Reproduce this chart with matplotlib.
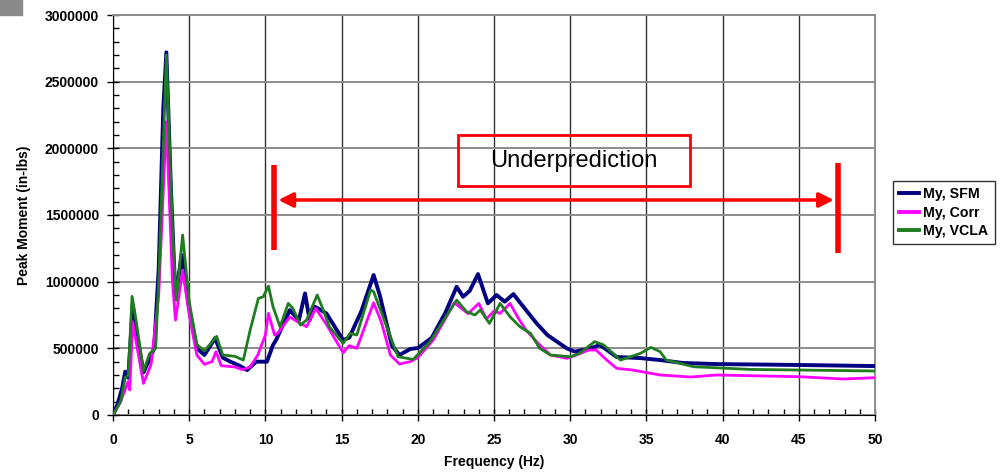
import matplotlib
matplotlib.use("Agg")
import matplotlib.pyplot as plt
from matplotlib.patches import Rectangle
from matplotlib.ticker import MultipleLocator, FuncFormatter

plt.rcParams['font.family'] = ['Liberation Sans', 'DejaVu Sans']

# Peak moment spectra, frequency in Hz, moment in in-lbs
freq_sfm = [0.0, 0.3, 0.6, 0.8, 1.0, 1.3, 1.5, 2.0, 2.4, 2.7, 3.0, 3.3, 3.5, 3.8, 4.1,
            4.5, 5.0, 5.5, 6.0, 6.7, 7.2, 7.7, 8.3, 8.8, 9.4, 10.1, 10.5, 10.7, 11.6, 12.2,
            12.6, 12.9, 13.25, 14.0, 15.1, 15.5, 16.3, 17.1, 17.5, 18.3, 18.8, 19.5, 20.0,
            20.9, 21.8, 22.55, 22.97, 23.4, 23.95, 24.6, 25.17, 25.7, 26.27, 27.1, 27.8,
            28.5, 29.77, 30.3, 31.3, 31.96, 33.05, 34.6, 35.9, 37.4, 39.6, 45.1, 50.0]
my_sfm = [0, 80000, 200000, 325000, 280000, 820000, 650000, 320000, 420000, 500000,
          1100000, 2300000, 2720000, 1700000, 870000, 1200000, 800000, 500000, 450000,
          577000, 430000, 400000, 370000, 337000, 400000, 400000, 525000, 562000, 787000,
          712000, 912000, 712000, 812000, 762000, 562000, 580000, 780000, 1050000, 900000,
          520000, 450000, 495000, 502000, 577000, 765000, 962000, 887000, 930000, 1057000,
          837000, 900000, 850000, 907000, 787000, 687000, 600000, 500000, 475000, 500000,
          525000, 435000, 427000, 412000, 390000, 382000, 375000, 367000]

freq_corr = [0.0, 0.5, 0.99, 1.1, 1.29, 1.5, 2.0, 2.5, 3.0, 3.5, 3.9, 4.1, 4.57, 5.0, 5.5,
             6.0, 6.5, 6.76, 7.1, 8.0, 8.5, 9.0, 9.5, 10.0, 10.2, 10.6, 10.8, 11.6, 12.1,
             12.7, 13.3, 14.0, 15.1, 15.5, 16.0, 17.1, 17.6, 18.2, 18.8, 19.5, 20.0, 21.0,
             22.0, 22.4, 23.3, 24.0, 24.5, 25.0, 25.4, 26.05, 26.6, 27.1, 27.9, 28.7, 29.8,
             30.4, 31.2, 31.7, 32.4, 33.05, 34.1, 35.9, 37.9, 39.6, 45.1, 47.9, 50.0]
my_corr = [0, 100000, 250000, 187000, 700000, 560000, 237000, 380000, 900000, 2200000,
           1000000, 712000, 1087000, 750000, 450000, 380000, 400000, 475000, 370000, 360000,
           340000, 360000, 450000, 600000, 762000, 600000, 612000, 735000, 700000, 662000,
           800000, 680000, 467000, 520000, 500000, 842000, 700000, 450000, 382000, 400000,
           430000, 560000, 760000, 842000, 760000, 837000, 720000, 780000, 762000, 837000,
           725000, 637000, 537000, 450000, 425000, 450000, 487000, 487000, 412000, 350000,
           337000, 300000, 285000, 300000, 287000, 270000, 280000]

freq_vcla = [0.0, 0.5, 0.8, 1.0, 1.25, 1.5, 2.0, 2.4, 2.8, 3.0, 3.5, 3.9, 4.15, 4.57, 5.0,
             5.5, 6.0, 6.8, 7.2, 8.0, 8.55, 9.0, 9.54, 9.86, 10.2, 10.5, 10.96, 11.5, 11.8,
             12.3, 12.7, 13.4, 13.8, 14.2, 15.1, 15.55, 16.0, 16.9, 17.1, 17.96, 18.7, 19.7,
             20.8, 21.7, 22.55, 23.2, 23.75, 24.1, 24.7, 25.4, 26.05, 26.7, 27.4, 28.0, 28.7,
             30.0, 30.6, 31.6, 32.2, 33.3, 34.6, 35.3, 35.9, 36.3, 38.1, 41.8, 50.0]
my_vcla = [0, 100000, 280000, 300000, 890000, 720000, 330000, 460000, 500000, 1000000,
           2700000, 1400000, 860000, 1350000, 850000, 530000, 480000, 590000, 450000,
           440000, 412000, 637000, 875000, 887000, 967000, 812000, 662000, 837000, 800000,
           675000, 712000, 900000, 787000, 662000, 537000, 612000, 600000, 937000, 925000,
           662000, 437000, 417000, 550000, 712000, 862000, 775000, 750000, 787000, 687000,
           837000, 737000, 662000, 612000, 500000, 450000, 437000, 462000, 550000, 525000,
           412000, 462000, 507000, 475000, 412000, 362000, 342000, 330000]

fig = plt.figure(figsize=(10.05, 4.75), dpi=100)
ax = fig.add_axes([113 / 1005, 60 / 475, 762 / 1005, 400 / 475])

ax.plot(freq_sfm, my_sfm, color='#000080', lw=2.8, label='My, SFM', zorder=3,
        solid_joinstyle='round')
ax.plot(freq_corr, my_corr, color='#ff00ff', lw=2.0, label='My, Corr', zorder=4,
        solid_joinstyle='round')
ax.plot(freq_vcla, my_vcla, color='#1e7d1e', lw=2.0, label='My, VCLA', zorder=5,
        solid_joinstyle='round')

ax.set_xlim(0, 50)
ax.set_ylim(0, 3000000)
ax.xaxis.set_major_locator(MultipleLocator(5))
ax.xaxis.set_minor_locator(MultipleLocator(1))
ax.yaxis.set_major_locator(MultipleLocator(500000))
ax.yaxis.set_minor_locator(MultipleLocator(100000))
ax.yaxis.set_major_formatter(FuncFormatter(lambda v, p: f'{int(round(v))}'))

ax.grid(axis='x', which='major', color='#303030', lw=1.0)
ax.grid(axis='y', which='major', color='#8c8c8c', lw=1.4)
ax.tick_params(which='major', direction='inout', length=8, width=1, color='black',
               labelsize=10)
ax.tick_params(axis='x', which='major', pad=9)
ax.tick_params(axis='y', which='major', pad=6)
ax.tick_params(which='minor', direction='in', length=4, width=1, color='black')
for lbl in ax.get_xticklabels() + ax.get_yticklabels():
    lbl.set_fontweight('bold')

for side in ('left', 'bottom'):
    ax.spines[side].set_color('black')
for side in ('top', 'right'):
    ax.spines[side].set_color('#8c8c8c')
    ax.spines[side].set_linewidth(1.4)

ax.set_xlabel('Frequency (Hz)', fontsize=10, fontweight='bold', labelpad=6)
ax.set_ylabel('Peak Moment (in-lbs)', fontsize=10, fontweight='bold', labelpad=10)

# underprediction range marker
ax.plot([10.56, 10.56], [1237500, 1875000], color='#ff0000', lw=4, solid_capstyle='butt')
ax.plot([47.57, 47.57], [1215000, 1890000], color='#ff0000', lw=4, solid_capstyle='butt')
ax.annotate('', xy=(10.85, 1612500), xytext=(47.3, 1612500),
            arrowprops=dict(arrowstyle='<|-|>', color='#ff0000', lw=2.5,
                            mutation_scale=22, shrinkA=0, shrinkB=0))
ax.add_patch(Rectangle((22.64, 1717500), 15.22, 382500, fill=False,
                       edgecolor='#ff0000', lw=2, zorder=6))
ax.text(30.25, 1905000, 'Underprediction', fontsize=17, ha='center', va='center',
        zorder=7)

leg = ax.legend(loc='upper left', bbox_to_anchor=(893 / 1005, 1 - 181 / 475),
                bbox_transform=fig.transFigure, frameon=True, fancybox=False,
                edgecolor='black', handlelength=1.4, handletextpad=0.3,
                borderpad=0.45, labelspacing=0.3, borderaxespad=0,
                prop={'weight': 'bold', 'size': 10.2})
leg.get_frame().set_linewidth(1.0)
for line in leg.get_lines():
    line.set_linewidth(2.8)

fig.patches.append(Rectangle((0, 1 - 15 / 475), 22 / 1005, 15 / 475,
                             transform=fig.transFigure, color='#8a8a8a'))

fig.savefig('out.png', dpi=100)
